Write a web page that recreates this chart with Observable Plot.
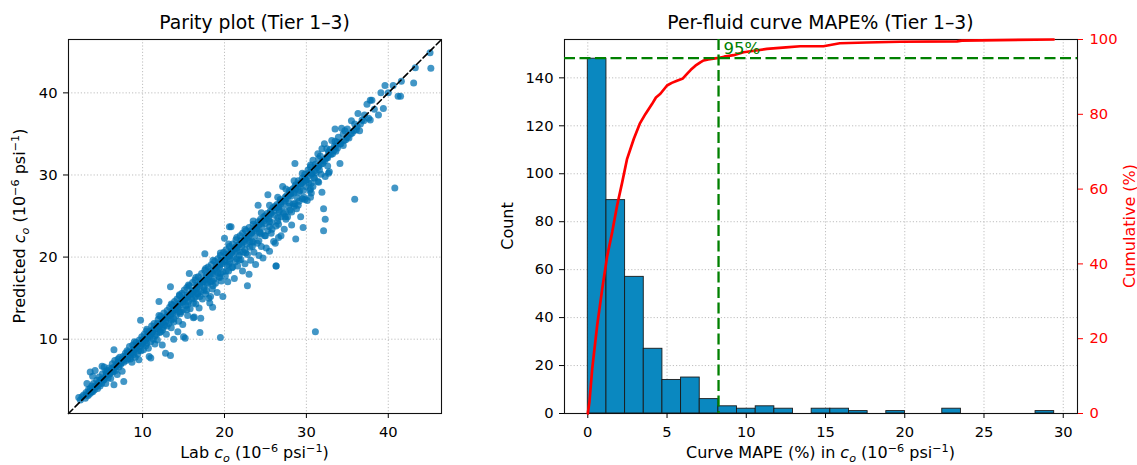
<!DOCTYPE html>
<html><head><meta charset="utf-8">
<script src="https://cdn.jsdelivr.net/npm/d3@7"></script>
<script src="https://cdn.jsdelivr.net/npm/@observablehq/plot@0.6"></script>
<style>
body{margin:0;background:#fff;}
#wrap{position:relative;width:1137px;height:465px;overflow:hidden;background:#fff;}
#wrap svg{position:absolute;top:0;}
</style></head><body><div id="wrap"></div>
<script>
// ---------------- DATA ----------------
const parityTitle = "Parity plot (Tier 1–3)";
const mapeTitle = "Per-fluid curve MAPE% (Tier 1–3)";
const parityLimits = [0.95, 46.5];
const parityTicks = [10, 20, 30, 40];

// Parity points [lab c_o, predicted c_o]
const parityLow = [[2.2,2.9],[2.4,2.6],[2.6,3.0],[2.8,3.2],[3.0,2.8],[3.1,3.5],[3.3,3.1],[3.4,3.9],[3.5,3.3],[3.6,4.0],[3.7,3.5],[3.8,4.3],[3.9,3.6],[4.0,4.6],[4.1,3.8],[4.2,6.2],[4.3,4.2],[4.4,5.0],[4.5,4.0],[4.6,4.7],[4.7,5.4],[4.8,4.3],[4.9,5.1],[5.0,4.6],[5.05,6.7],[5.1,5.8],[5.2,5.0],[5.3,6.6],[5.4,5.4],[5.5,4.6],[5.6,5.9],[5.6,5.6],[5.7,6.2],[5.8,5.3],[5.9,6.5],[6.0,5.8],[6.1,5.2],[6.2,6.4],[6.3,7.0],[6.4,6.0],[6.5,4.45],[6.5,8.7],[6.5,6.6],[6.6,7.4],[6.7,6.2],[6.8,6.9],[6.9,5.7],[7.0,7.2],[7.1,6.6],[7.2,7.8],[7.3,6.9],[7.4,7.4],[7.5,6.1],[7.6,7.9],[7.7,7.2],[7.7,4.85],[7.8,7.6],[7.9,8.3],[8.0,7.4],[3.6,6.0],[3.9,5.5],[3.2,4.6]];
const parityMid = [[8.1,8.6],[8.2,7.6],[8.3,8.0],[8.4,9.1],[8.5,7.9],[8.6,8.4],[8.7,7.2],[8.8,9.3],[8.9,8.1],[9.0,8.7],[9.1,7.8],[9.2,9.6],[9.3,8.9],[9.4,8.2],[9.55,7.5],[9.6,9.9],[9.7,9.1],[9.75,12.3],[9.8,8.6],[9.9,10.3],[10.0,9.4],[10.1,8.7],[10.2,10.6],[10.3,9.8],[10.4,9.2],[10.5,11.0],[10.6,10.1],[10.7,8.9],[10.8,7.9],[10.8,10.9],[10.9,10.4],[11.0,7.7],[11.0,9.7],[11.1,11.6],[11.2,10.8],[11.3,10.0],[11.4,11.9],[11.5,9.4],[11.6,11.2],[11.7,10.6],[11.8,9.9],[11.9,12.4],[12.0,14.6],[12.0,11.5],[12.1,10.8],[12.2,12.8],[12.3,11.9],[12.4,9.3],[12.4,11.1],[12.5,12.5],[12.6,13.2],[12.8,8.3],[12.7,11.7],[12.8,12.2],[12.9,10.6],[13.0,13.5],[13.1,12.6],[13.2,11.9],[13.3,13.9],[13.4,8.0],[13.4,16.4],[13.4,12.9],[13.5,11.4],[13.6,14.2],[13.7,13.2],[13.8,10.0],[13.8,12.5],[13.9,14.6],[14.0,13.6],
[14.1,12.9],[14.2,14.9],[14.3,10.9],[14.3,13.8],[14.4,12.2],[14.5,15.3],[14.6,14.2],[14.7,13.3],[14.8,15.6],[14.9,11.8],[14.9,14.5],[15.0,10.3],[15.0,13.6],[15.1,16.0],[15.2,10.1],[15.2,14.9],[15.3,14.1],[15.4,16.3],[15.5,12.9],[15.5,15.2],[15.6,14.6],[15.7,18.0],[15.7,16.5],[15.8,13.7],[15.9,15.5],[16.0,14.9],[16.1,16.9],[16.2,12.6],[16.2,15.8],[16.3,12.7],[16.3,15.0],[16.4,17.2],[16.5,14.3],[16.6,16.2],[16.7,15.5],[16.8,17.6],[17.0,10.8],[16.9,13.8],[17.0,16.6],[17.1,12.55],[17.1,15.8],[17.2,18.0],[17.3,14.9],[17.4,17.0],[17.6,20.4],[17.5,16.3],[17.6,18.4],[17.7,15.5],[17.8,17.4],[17.9,16.7],[18.0,18.8],[18.1,15.0],[18.1,17.6],[18.2,14.4],[18.3,15.2],[18.3,17.0],[18.4,19.1],[18.5,16.1],[18.55,13.9],[18.6,18.0],[18.7,17.3],[18.8,19.5],[18.9,16.8],[19.0,18.3],[19.1,15.7],[19.2,19.8],[19.3,17.6],[19.5,10.2],[19.4,18.8],[19.5,20.2],[19.8,15.2],[19.6,17.1],[19.7,19.2],[19.8,18.2],[19.9,20.6],[20.0,22.3],[20.0,19.5]];
const parityHigh = [[20.1,17.7],[20.2,20.9],[20.3,19.0],[20.4,17.0],[20.4,20.1],[20.5,18.3],[20.6,23.7],[20.6,21.3],[20.7,19.8],[20.8,23.7],[20.8,20.6],[20.9,18.7],[21.0,21.6],[21.1,20.1],[21.2,17.4],[21.2,21.0],[21.3,19.4],[21.4,22.1],[21.5,20.7],[21.6,18.9],[21.7,21.5],[21.8,20.2],[21.9,22.6],[22.0,19.7],[22.1,21.3],[22.2,18.3],[22.2,22.9],[22.3,20.6],[22.4,21.9],[22.5,19.2],[22.6,23.2],[22.8,16.5],[22.7,21.6],[23.0,17.9],[22.8,20.3],[22.9,22.4],[23.0,23.6],[23.1,21.2],[23.2,19.6],[23.3,22.9],[23.4,21.9],[23.5,24.0],[23.6,20.6],[23.7,22.6],[23.8,19.1],[23.9,23.4],[24.0,21.7],[24.1,26.3],[24.1,24.3],[24.2,20.2],[24.3,22.9],[24.4,24.6],[24.5,21.3],[24.6,23.6],[24.7,19.9],[24.8,24.9],[24.9,22.6],[25.0,24.1],[25.1,21.1],[25.2,25.3],[25.3,27.6],[25.3,23.2],[25.4,24.6],[25.5,20.7],[25.6,25.6],[25.7,22.9],[25.8,24.2],[25.9,26.0],[26.0,21.9],[26.1,25.1],[26.2,21.7],[26.3,18.9],[26.3,23.8],[26.4,26.4],[26.5,24.8],[26.6,22.4],[26.7,25.7],[26.8,27.0],[26.9,22.6],[26.9,24.9],[27.0,26.1],[27.1,28.6],[27.2,25.3],[27.3,23.4],[27.4,26.8],[27.5,24.6],[27.6,27.5],[27.7,24.9],[27.8,26.2],[27.9,28.1],
[28.0,25.7],[28.1,27.4],[28.2,23.9],[28.3,28.3],[28.4,26.5],[28.5,27.8],[28.6,26.5],[28.6,31.4],[28.7,22.2],[28.7,28.8],[28.8,25.9],[28.9,27.2],[29.0,29.3],[29.1,26.8],[29.2,28.1],[29.3,24.9],[29.4,28.95],[29.6,23.6],[29.5,29.6],[29.6,28.1],[29.7,27.3],[29.8,30.1],[29.9,28.6],[30.0,29.4],[30.1,26.9],[30.2,30.6],[30.3,29.0],[30.4,28.1],[30.5,27.3],[30.5,31.0],[30.6,29.0],[30.7,30.2],[30.8,31.8],[30.8,28.6],[30.9,29.7],[31.0,29.6],[31.1,31.3],[31.2,30.3],[31.4,32.6],[31.4,29.2],[31.5,31.1],[31.6,30.6],[31.7,32.3],[31.8,30.1],[31.9,27.9],[31.9,33.2],[32.0,31.4],[32.1,25.9],[32.1,23.2],[32.2,33.8],[32.3,24.6],[32.3,29.8],[32.4,32.0],[32.5,32.2],[32.6,31.1],[32.7,30.2],[32.7,32.8],[32.8,30.4],[32.9,33.1],[33.1,34.2],[33.2,32.6],[33.4,33.5],[33.5,35.6],[33.6,32.9],[33.8,34.0],[33.9,34.6],[34.1,31.4],[34.1,33.8],[34.3,35.7],[34.5,33.6],[34.7,35.4],[34.8,34.3],[35.0,35.6],[35.2,34.5],[35.5,36.6],[35.6,35.1],[35.9,36.2],[35.9,27.05],[36.1,35.5],[36.3,37.5],[36.5,35.4],[36.8,36.7],[37.1,37.3],[37.4,38.6],[37.6,36.9],[37.8,36.7],[37.8,39.1],[38.0,39.1],[38.3,38.0],[38.8,37.3],[39.1,40.0],[39.4,38.1],[39.6,40.9],[40.0,40.0],[40.6,40.9],[40.8,28.4],[41.2,39.6],[41.5,39.6],[41.6,41.4],[43.1,41.2],[43.3,43.05],[45.2,43.0],[45.1,44.9]];
const parityCore = [[3.2,3.3],[3.5,3.6],[3.8,3.7],[4.1,4.2],[4.4,4.3],[4.7,4.6],[5.0,5.1],[5.3,5.1],[5.6,5.7],[5.9,5.8],[6.2,6.0],[6.5,6.4],[6.8,6.7],[7.1,7.0],[7.4,7.1],[7.7,7.6],[8.0,8.0],[8.3,8.2],[8.6,8.3],[8.9,8.8],[9.2,8.9],[9.5,9.4],[9.8,9.5],[10.1,10.0],[10.4,10.0],[10.7,10.5],[11.0,10.6],[11.3,11.2],[11.6,11.3],[11.9,11.6],[12.2,11.8],[12.5,12.1],[12.8,12.6],[13.1,12.8],[13.4,13.1],[13.7,13.5],[14.0,13.7],[14.3,14.0],[14.6,14.4],[14.9,14.6],[15.2,15.0],[15.5,15.1],[15.8,15.5],[16.1,15.9],[16.4,16.0],[16.7,16.4],[17.0,16.8],[17.3,17.0],[17.6,17.2],[17.9,17.6],[18.2,17.9],[18.5,18.1],[18.8,18.5],[19.1,18.8],[19.4,19.0],[19.7,19.4],[20.0,19.7],[20.3,20.0],[20.6,20.2],[20.9,20.5],[21.2,20.9],[21.5,21.1],[21.8,21.5],[22.1,21.7],[22.4,22.1],[22.7,22.3],[23.0,22.6],[23.3,23.0],[23.6,23.2],[23.9,23.5],[24.2,23.9],[24.5,24.1],[24.8,24.4],[25.1,24.7],[25.4,25.0],[25.7,25.3],[26.0,25.6],[26.3,26.0],[26.6,26.1],[26.9,26.5],[27.2,26.8],[27.5,27.1],[27.8,27.4],[28.1,27.7],[28.4,27.9],[28.7,28.3],[29.0,28.6],[29.3,28.9],[29.6,29.2],[29.9,29.4],[30.2,29.8],[30.6,30.1],[31.0,30.5],[31.4,30.9],[31.8,31.3],[32.2,31.7],[32.6,32.1],[33.0,32.5],[33.4,33.0],[33.8,33.3],[34.2,33.8],[34.6,34.2],[35.0,34.6],[35.4,35.0],[35.8,35.4],[36.2,35.9],[36.6,36.2],[37.0,36.6]];
const parityAbove = [[5.5,6.1],[7.0,7.6],[9.0,9.7],[10.5,11.2],[12.0,12.9],[13.5,14.3],[14.5,15.4],[15.6,16.6],[16.5,17.5],[17.7,18.6],[18.6,19.6],[19.5,20.5],[20.5,21.6],[21.5,22.4],[22.5,23.4],[23.5,24.4],[24.5,25.4],[25.5,26.3],[26.5,27.3],[27.5,28.3],[28.5,29.3],[29.5,30.2],[30.5,31.2],[31.5,32.0],[32.5,33.2],[33.5,34.1],[34.5,35.0]];
const parityBelow = [[8.5,7.6],[9.5,8.6],[10.5,9.5],[11.5,10.4],[12.5,11.4],[13.5,12.3],[14.5,13.3],[15.5,14.2],[16.5,15.2],[17.5,16.0],[18.5,17.1],[19.5,18.0],[20.5,19.1],[21.5,19.8],[22.5,20.9],[23.5,21.8],[24.5,22.8],[25.5,23.7],[26.5,24.4],[27.5,25.5],[28.5,26.2],[29.5,27.1],[30.5,28.3],[31.5,29.1],[31.1,10.9],[26.3,18.9]];
const parityOnLine = [[8.2,8.4],[8.8,8.4],[9.3,9.3],[9.9,9.7],[10.6,10.4],[11.2,11.0],[11.8,11.9],[12.4,12.3],[13.0,12.9],[13.6,13.4],[14.2,14.2],[14.8,14.8],[15.4,15.4],[16.0,15.7],[16.6,16.6],[17.2,17.2],[17.8,17.8],[18.4,18.3],[19.0,19.0],[19.6,19.6],[20.2,20.3],[20.8,20.8],[21.4,21.3],[22.0,22.0],[22.6,22.5],[23.2,23.2],[23.8,23.8],[24.4,24.3],[25.0,25.0],[25.6,25.4],[26.2,26.2],[26.8,26.7],[27.4,27.3],[28.0,27.9],[28.6,28.6],[29.2,29.0],[29.8,29.7],[30.4,30.3],[31.2,31.0],[32.0,31.8],[32.8,32.6],[33.6,33.5]];
const parityUnder = [[12.2,10.9],[13.0,11.6],[13.8,12.1],[14.6,13.1],[15.4,13.6],[16.2,14.4],[17.0,15.2],[17.8,15.9],[18.6,16.5],[19.4,17.5],[20.2,18.3],[21.0,18.8],[21.8,19.6],[22.6,20.5],[23.4,21.3],[24.2,22.0],[25.0,22.6],[25.8,23.4],[26.6,24.0],[27.4,24.9],[28.2,25.5],[29.0,26.3],[29.8,27.0],[30.6,27.8],[16.8,15.6],[18.0,16.9],[19.2,18.1],[20.6,19.4],[21.9,20.6],[23.1,21.9],[24.3,23.1],[25.5,24.3],[26.7,25.5],[27.9,26.6],[29.1,27.9]];

// Histogram of per-fluid curve MAPE (%)
const mapeRange = [0, 29.43];
const mapeCounts = [148, 89, 57, 27, 14, 15, 6, 3, 2, 3, 2, 0, 2, 2, 1, 0, 1, 0, 0, 2, 0, 0, 0, 0, 1];
const mapeXLimits = [-1.47, 30.9];
const countLimits = [0, 156];
const mapeXTicks = [0, 5, 10, 15, 20, 25, 30];
const countTicks = [0, 20, 40, 60, 80, 100, 120, 140];

// Cumulative curve (%)
const cumMape = [0, 0.1, 0.28, 0.59, 0.91, 1.22, 1.54, 1.85, 2.17, 2.48, 2.9, 3.28, 3.64, 4.06, 4.3, 4.58, 5.0, 5.3, 5.63, 6.0, 6.26, 6.5, 6.79, 7.1, 7.31, 7.6, 8.15, 8.6, 9.2, 9.83, 10.5, 11.3, 12.5, 13.4, 14.87, 15.9, 17.6, 19.7, 23.3, 23.6, 29.4];
const cumPct = [0, 3, 12, 23.5, 33.3, 42, 48.5, 55.6, 61.8, 68.1, 73.4, 77.5, 80.1, 82.8, 84.5, 85.5, 87.7, 88.4, 89.0, 89.6, 90.8, 91.9, 93.0, 93.9, 94.4, 94.7, 95.0, 95.4, 95.8, 96.6, 97.0, 97.5, 97.9, 98.2, 98.2, 99.0, 99.2, 99.4, 99.5, 99.7, 100];
const cumLimits = [0, 100];
const cumTicks = [0, 20, 40, 60, 80, 100];
const p95Value = 8.25;
const p95Pct = 95;
const p95Label = "95%";

// Axis labels (math parts)
const parityXLabel = [["n","Lab "],["i","c"],["sub","o"],["n"," (10"],["sup","−6"],["n"," psi"],["sup","−1"],["n",")"]];
const parityYLabel = [["n","Predicted "],["i","c"],["sub","o"],["n"," (10"],["sup","−6"],["n"," psi"],["sup","−1"],["n",")"]];
const mapeXLabel = [["n","Curve MAPE (%) in "],["i","c"],["sub","o"],["n"," (10"],["sup","−6"],["n"," psi"],["sup","−1"],["n",")"]];
const countLabel = [["n","Count"]];
const cumLabel = [["n","Cumulative (%)"]];

// ---------------- DRAW ----------------
const FONT = "DejaVu Sans";
const TICK = 14.7, LAB = 16, TITLE = 18.8;
const BLUE_PT = "#0072b2", BLUE_BAR = "#0a88c0";
const gridStyle = {stroke: "#b8b8b8", strokeOpacity: 1, strokeWidth: 0.9, strokeDasharray: "1.2,2"};
const baseStyle = {fontFamily: FONT, fontSize: TICK + "px", color: "#000", background: "transparent", overflow: "visible"};

const wrap = document.getElementById("wrap");

function mathText(svg, {x, y, rotate = 0, parts, size = LAB, color = "#000"}) {
  const t = d3.select(svg).append("text")
    .attr("transform", `translate(${x},${y}) rotate(${rotate})`)
    .attr("text-anchor", "middle").attr("fill", color)
    .attr("font-family", FONT).attr("font-size", size)
    .style("white-space", "pre");
  let shift = 0;
  for (const [kind, str] of parts) {
    const ts = t.append("tspan").text(str);
    let target = 0;
    if (kind === "sub") { target = 0.22 * size; ts.attr("font-size", size * 0.7).attr("font-style", "italic"); }
    else if (kind === "sup") { target = -0.4 * size; ts.attr("font-size", size * 0.7); }
    else if (kind === "i") ts.attr("font-style", "italic");
    if (target - shift !== 0) ts.attr("dy", target - shift);
    shift = target;
  }
}
function title(svg, x, str) {
  d3.select(svg).append("text").attr("x", x).attr("y", 29)
    .attr("text-anchor", "middle").attr("font-family", FONT).attr("font-size", TITLE)
    .attr("fill", "#000").text(str);
}

// Left: parity plot
const dotOpts = {x: d => d[0], y: d => d[1], r: 3.5, fill: BLUE_PT, fillOpacity: 0.74, stroke: "none"};
const left = Plot.plot({
  width: 480, height: 465,
  marginLeft: 68, marginRight: 39, marginTop: 39, marginBottom: 52,
  style: baseStyle,
  x: {domain: parityLimits, label: null},
  y: {domain: parityLimits, label: null},
  marks: [
    Plot.gridX(parityTicks, gridStyle),
    Plot.gridY(parityTicks, gridStyle),
    ...[parityLow, parityMid, parityHigh, parityCore, parityAbove, parityBelow, parityOnLine, parityUnder].map(g => Plot.dot(g, dotOpts)),
    Plot.line(parityLimits.map(v => [v, v]), {x: d => d[0], y: d => d[1], stroke: "#000", strokeWidth: 1.6, strokeDasharray: "6,3.3"}),
    Plot.frame({stroke: "#111", strokeWidth: 1.1}),
    Plot.axisX(parityTicks, {tickSize: 5, tickPadding: 8, label: null}),
    Plot.axisY(parityTicks, {tickSize: 5, tickPadding: 6, label: null})
  ]
});
left.style.left = "0px";
wrap.appendChild(left);
title(left, (68 + 441) / 2, parityTitle);
mathText(left, {x: (68 + 441) / 2, y: 458, parts: parityXLabel});
mathText(left, {x: 25, y: 226, rotate: -90, parts: parityYLabel});

// Right: histogram
const nb = mapeCounts.length;
const bw = (mapeRange[1] - mapeRange[0]) / nb;
const bins = mapeCounts.map((c, i) => ({x1: mapeRange[0] + i * bw, x2: mapeRange[0] + (i + 1) * bw, count: c})).filter(d => d.count > 0);
const M = {width: 657, height: 465, marginLeft: 84, marginRight: 60, marginTop: 39, marginBottom: 52};
const right = Plot.plot({
  ...M,
  style: baseStyle,
  x: {domain: mapeXLimits, label: null},
  y: {domain: countLimits, label: null},
  marks: [
    Plot.gridX(mapeXTicks, gridStyle),
    Plot.gridY(countTicks, gridStyle),
    Plot.rectY(bins, {x1: "x1", x2: "x2", y: "count", fill: BLUE_BAR, stroke: "#1a1a1a", strokeWidth: 0.9, insetLeft: 0, insetRight: 0}),
    Plot.frame({stroke: "#111", strokeWidth: 1.1}),
    Plot.axisX(mapeXTicks, {tickSize: 5, tickPadding: 8, label: null}),
    Plot.axisY(countTicks, {tickSize: 5, tickPadding: 6, label: null})
  ]
});
right.style.left = "480px";
wrap.appendChild(right);

// Right overlay: cumulative (twin y axis)
const cum = cumMape.map((v, i) => ({x: v, y: cumPct[i]}));
const overlay = Plot.plot({
  ...M,
  style: baseStyle,
  x: {domain: mapeXLimits, axis: null},
  y: {domain: cumLimits, axis: null},
  marks: [
    Plot.line(cum, {x: "x", y: "y", stroke: "red", strokeWidth: 2.7}),
    Plot.ruleY([p95Pct], {stroke: "green", strokeWidth: 2.3, strokeDasharray: "11,4.5"}),
    Plot.ruleX([p95Value], {stroke: "green", strokeWidth: 2.3, strokeDasharray: "11,4.5"}),
    Plot.text([p95Label], {x: () => p95Value, y: () => p95Pct, text: d => d, dx: 5, dy: -4, textAnchor: "start", lineAnchor: "bottom", fill: "green", fontSize: 16.5}),
    Plot.axisY(cumTicks, {anchor: "right", tickSize: 5, tickPadding: 7, label: null, color: "red"})
  ]
});
overlay.style.left = "480px";
wrap.appendChild(overlay);
title(overlay, 84 + (657 - 84 - 60) / 2, mapeTitle);
mathText(overlay, {x: 84 + (657 - 84 - 60) / 2, y: 458, parts: mapeXLabel});
mathText(overlay, {x: 33, y: 226, rotate: -90, parts: countLabel});
mathText(overlay, {x: 654.5, y: 226, rotate: -90, parts: cumLabel, color: "red"});
</script></body></html>
